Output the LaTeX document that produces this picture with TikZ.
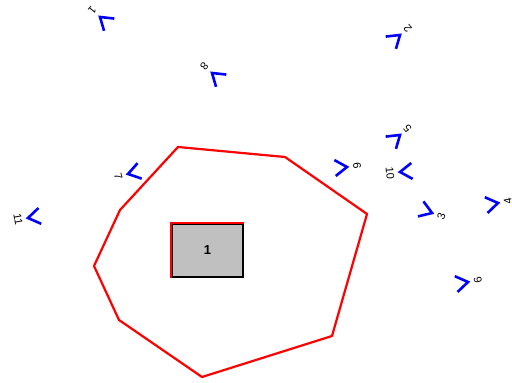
\documentclass[tikz,border=0pt]{standalone}
\usepackage{fontspec}
\setmainfont{Liberation Sans}
\definecolor{boxgray}{RGB}{192,192,192}
\begin{document}
\begin{tikzpicture}[x=0.5pt, y=-0.5pt,
    arm/.style={blue, line width=1.3pt, line join=miter},
    num/.style={font=\fontsize{5.5}{6}\selectfont, inner sep=0pt}]
    \useasboundingbox (0,0) rectangle (512,383);
    % 領域
    \draw[red, line width=1.1pt, line join=round] (178,147) -- (285,157) -- (367,214) -- (332,336)
      -- (202,377) -- (119,320) -- (94,266) -- (120,210) -- cycle;
    % 箱
    \node[draw=black, line width=0.8pt, fill=boxgray, minimum width=35.5pt, minimum height=26.5pt,
      inner sep=0pt, font=\fontsize{6.5}{7}\selectfont\bfseries] (box) at (207.5,250.5) {1};
    \draw[red, line width=1pt] (box.south west) -- (box.north west) -- (box.north east);
    % センサ
    \foreach \x/\y/\a/\n in {100/17/140/1, 400/35/40/2, 432/213/-20/3, 498/203/10/4,
        400/135/40/5, 468/282/10/6, 128/174/195/7, 212/73/140/8, 347/167/5/9,
        400/172/185/10, 28/218/190/11} {
      \begin{scope}[shift={(\x,\y)}, rotate=\a]
        \draw[arm] (-12,8) -- (0,0) -- (-12,-8);
        \node[num, rotate=\a+90] (s\n) at (10,0) {\n};
      \end{scope}
    }
\end{tikzpicture}
\end{document}
